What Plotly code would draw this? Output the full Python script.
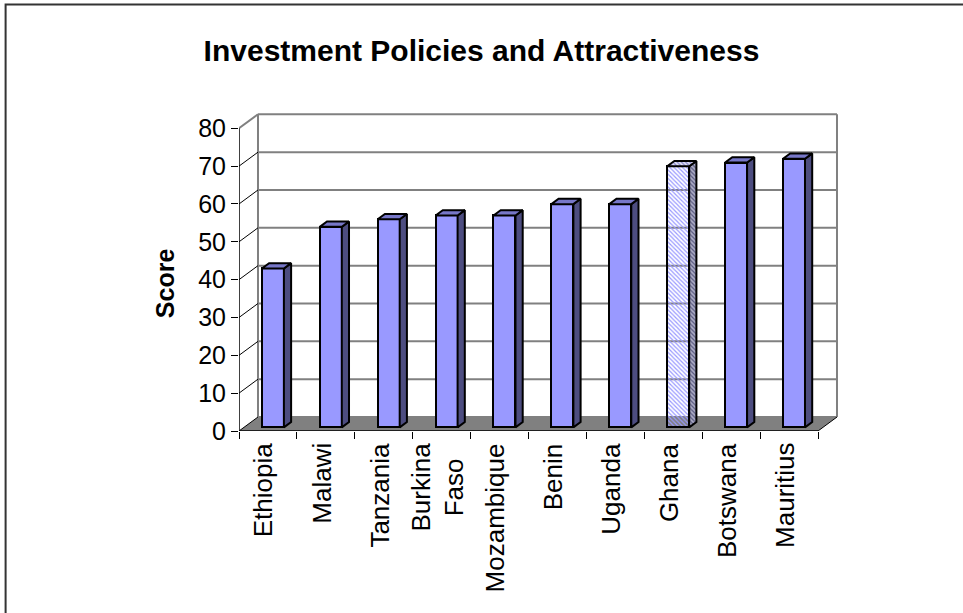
import plotly.graph_objects as go

# ---- data -------------------------------------------------------------
countries = ["Ethiopia", "Malawi", "Tanzania", "Burkina<br>Faso", "Mozambique",
             "Benin", "Uganda", "Ghana", "Botswana", "Mauritius"]
scores = [42, 53, 55, 56, 56, 59, 59, 69, 70, 71]
highlighted = ["Ghana"]
y_ticks = [0, 10, 20, 30, 40, 50, 60, 70, 80]

# ---- pseudo-3D geometry (data units) ---------------------------------
n = len(countries)
X_LO, X_HI = -0.5, n - 0.5
Y_TOP = y_ticks[-1]
DX, DY = 0.328, 3.70            # oblique depth of the floor / back wall
F_FRONT, F_DEPTH = 0.26, 0.38   # bar front position and bar depth (fractions)
BAR_W = 0.38
sx, sy = F_FRONT * DX, F_FRONT * DY
bdx, bdy = F_DEPTH * DX, F_DEPTH * DY

FONT = "Liberation Sans, Arial, sans-serif"
FRONT, SIDE, TOP = "#9999FF", "#4D4D80", "#7777C8"

fig = go.Figure()

# front faces of the columns
is_hi = [c in highlighted for c in countries]
centers = [i + sx for i in range(n)]
fig.add_trace(go.Bar(
    x=centers, y=scores, base=[sy] * n, width=BAR_W,
    marker=dict(
        color=[FRONT] * n,
        line=dict(color="black", width=2),
        pattern=dict(shape=["\\" if h else "" for h in is_hi],
                     fgcolor="#A4A4F4", bgcolor="#F4F4FF",
                     size=3, solidity=0.4, fillmode="replace"),
    ),
    hoverinfo="skip", showlegend=False,
))


def faces(mask):
    side_x, side_y, top_x, top_y = [], [], [], []
    for i, (v, m) in enumerate(zip(scores, mask)):
        if not m:
            continue
        xl = centers[i] - BAR_W / 2
        xr = centers[i] + BAR_W / 2
        top = sy + v
        side_x += [xr, xr + bdx, xr + bdx, xr, xr, None]
        side_y += [sy, sy + bdy, top + bdy, top, sy, None]
        top_x += [xl, xl + bdx, xr + bdx, xr, xl, None]
        top_y += [top, top + bdy, top + bdy, top, top, None]
    return side_x, side_y, top_x, top_y


plain = [not h for h in is_hi]
sxp, syp, txp, typ = faces(plain)
sxh, syh, txh, tyh = faces(is_hi)

for xs, ys, col in [(sxp, syp, SIDE), (txp, typ, TOP)]:
    fig.add_trace(go.Scatter(x=xs, y=ys, mode="lines", fill="toself",
                             fillcolor=col, line=dict(color="black", width=2),
                             hoverinfo="skip", showlegend=False))
for xs, ys, fg, bg in [(sxh, syh, "#5A5A80", "#ABABC4"),
                       (txh, tyh, "#8080C8", "#E4E4F6")]:
    fig.add_trace(go.Scatter(x=xs, y=ys, mode="lines", fill="toself",
                             fillpattern=dict(shape="\\", fgcolor=fg, bgcolor=bg,
                                              size=3, solidity=0.4,
                                              fillmode="replace"),
                             line=dict(color="black", width=2),
                             hoverinfo="skip", showlegend=False))

# ---- walls, floor and axis frame --------------------------------------
shapes = []
GRID = "#808080"
# back-wall gridlines
for t in y_ticks:
    shapes.append(dict(type="line", layer="below", x0=X_LO + DX, x1=X_HI + DX,
                       y0=t + DY, y1=t + DY, line=dict(color=GRID, width=2)))
# back-wall verticals
for xv in (X_LO + DX, X_HI + DX):
    shapes.append(dict(type="line", layer="below", x0=xv, x1=xv,
                       y0=DY, y1=Y_TOP + DY, line=dict(color=GRID, width=2)))
# side-wall diagonals
for t in y_ticks[1:]:
    top_line = t == Y_TOP
    shapes.append(dict(type="line", layer="below", x0=X_LO, x1=X_LO + DX,
                       y0=t, y1=t + DY,
                       line=dict(color=GRID if top_line else "black",
                                 width=2 if top_line else 1)))
# floor
shapes.append(dict(type="path", layer="below",
                   path=f"M {X_LO},0 L {X_HI},0 L {X_HI + DX},{DY} "
                        f"L {X_LO + DX},{DY} Z",
                   fillcolor="#808080", line=dict(width=0)))
# front axis lines
shapes.append(dict(type="line", x0=X_LO, x1=X_LO, y0=0, y1=Y_TOP,
                   line=dict(color="black", width=1.5)))
shapes.append(dict(type="line", x0=X_LO, x1=X_HI, y0=0, y1=0,
                   line=dict(color="black", width=1.5)))
shapes.append(dict(type="line", x0=X_HI, x1=X_HI + DX, y0=0, y1=DY,
                   line=dict(color="black", width=1)))
shapes.append(dict(type="line", x0=X_LO, x1=X_LO + DX, y0=0, y1=DY,
                   line=dict(color="black", width=1)))
# chart-area frame
shapes.append(dict(type="rect", xref="paper", yref="paper",
                   x0=-0.382, x1=1.3, y0=-0.7, y1=1.329,
                   line=dict(color="#333333", width=2), layer="above"))

# category labels: rotated, top-aligned under the axis, lines centred
annotations = [dict(text=name, x=i - 0.08, y=0, xref="x", yref="y",
                    textangle=-90, showarrow=False, align="center",
                    xanchor="center", yanchor="top", yshift=-10,
                    font=dict(family=FONT, size=26, color="black"))
               for i, name in enumerate(countries)]
annotations.append(dict(text="<b>Score</b>", xref="paper", yref="paper",
                        x=(165 - 239) / 611, y=(430.7 - 283) / 320.7,
                        textangle=-90, showarrow=False,
                        xanchor="center", yanchor="middle",
                        font=dict(family=FONT, size=25, color="black")))

fig.update_layout(
    width=963, height=613, autosize=False,
    margin=dict(l=239, r=113, t=110, b=182.3, pad=0),
    paper_bgcolor="white", plot_bgcolor="rgba(0,0,0,0)",
    font=dict(family=FONT, color="black", size=24),
    title=dict(text="<b>Investment Policies and Attractiveness</b>",
               x=0.5, xref="container", xanchor="center",
               y=1 - 50 / 613, yref="container", yanchor="middle",
               font=dict(family=FONT, size=30, color="black")),
    shapes=shapes,
    annotations=annotations,
    xaxis=dict(range=[X_LO, X_LO + 611 / 57.9], showgrid=False, zeroline=False,
               showline=False, automargin=False,
               tickmode="array", tickvals=[i for i in range(n)],
               showticklabels=False, ticks="",
               minor=dict(tickmode="array",
                          tickvals=[i - 0.5 for i in range(n + 1)],
                          ticks="outside", ticklen=7, tickwidth=1,
                          tickcolor="black", showgrid=False)),
    yaxis=dict(range=[0, 320.7 / 3.78], showgrid=False, zeroline=False,
               showline=False, automargin=False,
               tickmode="array", tickvals=y_ticks,
               ticks="outside", ticklen=7, tickwidth=1, tickcolor="black",
               tickfont=dict(family=FONT, size=25, color="black")),
    bargap=0,
)

fig.write_html("out.html")
